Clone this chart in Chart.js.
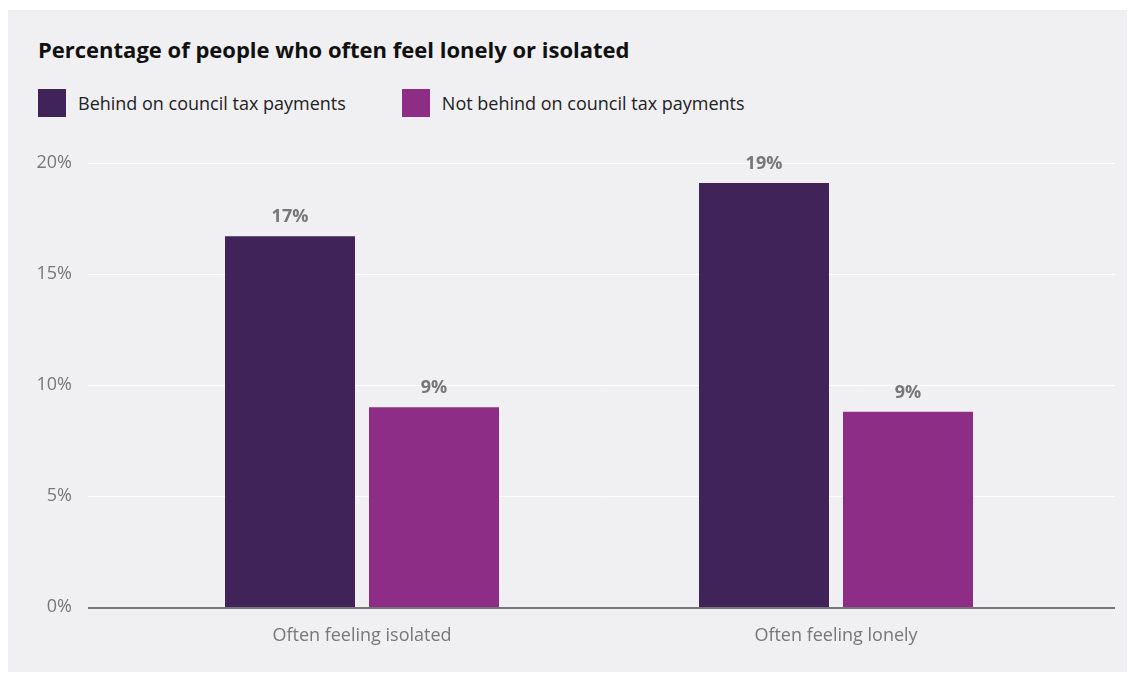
<!DOCTYPE html>
<html>
<head>
<meta charset="utf-8">
<title>Percentage of people who often feel lonely or isolated</title>
<script src="https://cdn.jsdelivr.net/npm/chart.js@4/dist/chart.umd.min.js"></script>
<style>
  html, body { margin: 0; padding: 0; background: #ffffff; }
  body {
    position: relative;
    width: 1135px;
    height: 675px;
    overflow: hidden;
    font-family: "Source Sans Pro", "Open Sans", sans-serif;
  }
  .panel {
    position: absolute;
    left: 8px;
    top: 10px;
    width: 1119px;
    height: 662px;
    background: #f0f0f2;
  }
  h1 {
    position: absolute;
    left: 38px;
    top: 34px;
    margin: 0;
    font-size: 22px;
    line-height: 30px;
    font-weight: 700;
    color: #111111;
  }
  #legend {
    position: absolute;
    left: 38px;
    top: 89px;
    display: flex;
  }
  .legend-item {
    display: flex;
    align-items: center;
    margin-right: 56px;
  }
  .legend-box {
    width: 28px;
    height: 28px;
    margin-right: 12px;
  }
  .legend-label {
    font-size: 18px;
    color: #222222;
  }
  #chart {
    position: absolute;
    left: 0;
    top: 0;
  }
</style>
</head>
<body>
<div class="panel"></div>
<h1>Percentage of people who often feel lonely or isolated</h1>
<div id="legend"></div>
<canvas id="chart" width="1135" height="675"></canvas>

<script>
// Chart data
const CATEGORIES = ['Often feeling isolated', 'Often feeling lonely'];
const SERIES_NAMES = ['Behind on council tax payments', 'Not behind on council tax payments'];
const BEHIND_VALUES = [16.7, 19.1];
const NOT_BEHIND_VALUES = [9.0, 8.8];
const Y_TICKS = [0, 5, 10, 15, 20];

// Series colours
const SERIES_COLORS = ['#3f2359', '#8e2d85'];

// Text styling
const FONT_FAMILY = '"Source Sans Pro", "Open Sans", sans-serif';
const MUTED_TEXT = '#777777';

// Grid lines run a little wider than the bar area
const GRID_LEFT = 88;
const GRID_RIGHT = 1115;

// Format a value as a percentage label
function formatPercent(value) {
  return Math.round(value) + '%';
}

// Build legend from the chart datasets
function renderLegend(chart) {
  const container = document.getElementById('legend');
  container.innerHTML = '';

  chart.data.datasets.forEach(ds => {
    const item = document.createElement('div');
    item.className = 'legend-item';

    const box = document.createElement('span');
    box.className = 'legend-box';
    box.style.background = ds.backgroundColor;

    const label = document.createElement('span');
    label.className = 'legend-label';
    label.textContent = ds.label;

    item.appendChild(box);
    item.appendChild(label);
    container.appendChild(item);
  });
}

// Horizontal grid, zero line and value labels
const decorations = {
  id: 'decorations',
  beforeDatasetsDraw(chart) {
    const ctx = chart.ctx;
    const yScale = chart.scales.y;

    ctx.save();
    ctx.strokeStyle = '#ffffff';
    ctx.lineWidth = 1;
    Y_TICKS.forEach(tick => {
      if (tick === 0) return;
      const y = Math.round(yScale.getPixelForValue(tick)) + 0.5;
      ctx.beginPath();
      ctx.moveTo(GRID_LEFT, y);
      ctx.lineTo(GRID_RIGHT, y);
      ctx.stroke();
    });
    ctx.restore();
  },
  afterDatasetsDraw(chart) {
    const ctx = chart.ctx;
    const yScale = chart.scales.y;

    // Zero line
    const y0 = yScale.getPixelForValue(0) + 1;
    ctx.save();
    ctx.strokeStyle = '#767676';
    ctx.lineWidth = 2;
    ctx.beginPath();
    ctx.moveTo(GRID_LEFT, y0);
    ctx.lineTo(GRID_RIGHT, y0);
    ctx.stroke();

    // Value labels above each bar
    ctx.fillStyle = MUTED_TEXT;
    ctx.font = 'bold 18px ' + FONT_FAMILY;
    ctx.textAlign = 'center';
    ctx.textBaseline = 'middle';
    chart.data.datasets.forEach((ds, i) => {
      const meta = chart.getDatasetMeta(i);
      meta.data.forEach((bar, j) => {
        ctx.fillText(formatPercent(ds.data[j]), bar.x, bar.y - 19);
      });
    });
    ctx.restore();
  }
};

// Create bar chart
function createChart() {
  const canvas = document.getElementById('chart');

  return new Chart(canvas, {
    type: 'bar',
    data: {
      labels: CATEGORIES,
      datasets: [
        {
          label: SERIES_NAMES[0],
          data: BEHIND_VALUES,
          backgroundColor: SERIES_COLORS[0]
        },
        {
          label: SERIES_NAMES[1],
          data: NOT_BEHIND_VALUES,
          backgroundColor: SERIES_COLORS[1]
        }
      ]
    },
    options: {
      responsive: false,
      animation: false,
      categoryPercentage: 0.6076,
      barPercentage: 0.9028,
      layout: {
        padding: { top: 163, right: 62, bottom: 0, left: 0 }
      },
      plugins: {
        legend: { display: false },
        title: { display: false },
        tooltip: { enabled: false }
      },
      scales: {
        x: {
          grid: { display: false },
          border: { display: false },
          ticks: {
            color: MUTED_TEXT,
            font: { family: FONT_FAMILY, size: 18 },
            padding: 10
          },
          afterFit(scale) {
            scale.height = 68;
          }
        },
        y: {
          min: 0,
          max: 20,
          grid: { display: false },
          border: { display: false },
          ticks: {
            color: MUTED_TEXT,
            font: { family: FONT_FAMILY, size: 18 },
            padding: 45,
            callback: value => value + '%'
          },
          afterBuildTicks(scale) {
            scale.ticks = Y_TICKS.map(v => ({ value: v }));
          },
          afterFit(scale) {
            scale.width = 125;
          }
        }
      }
    },
    plugins: [decorations]
  });
}

// Start
const chart = createChart();
renderLegend(chart);
</script>
</body>
</html>
